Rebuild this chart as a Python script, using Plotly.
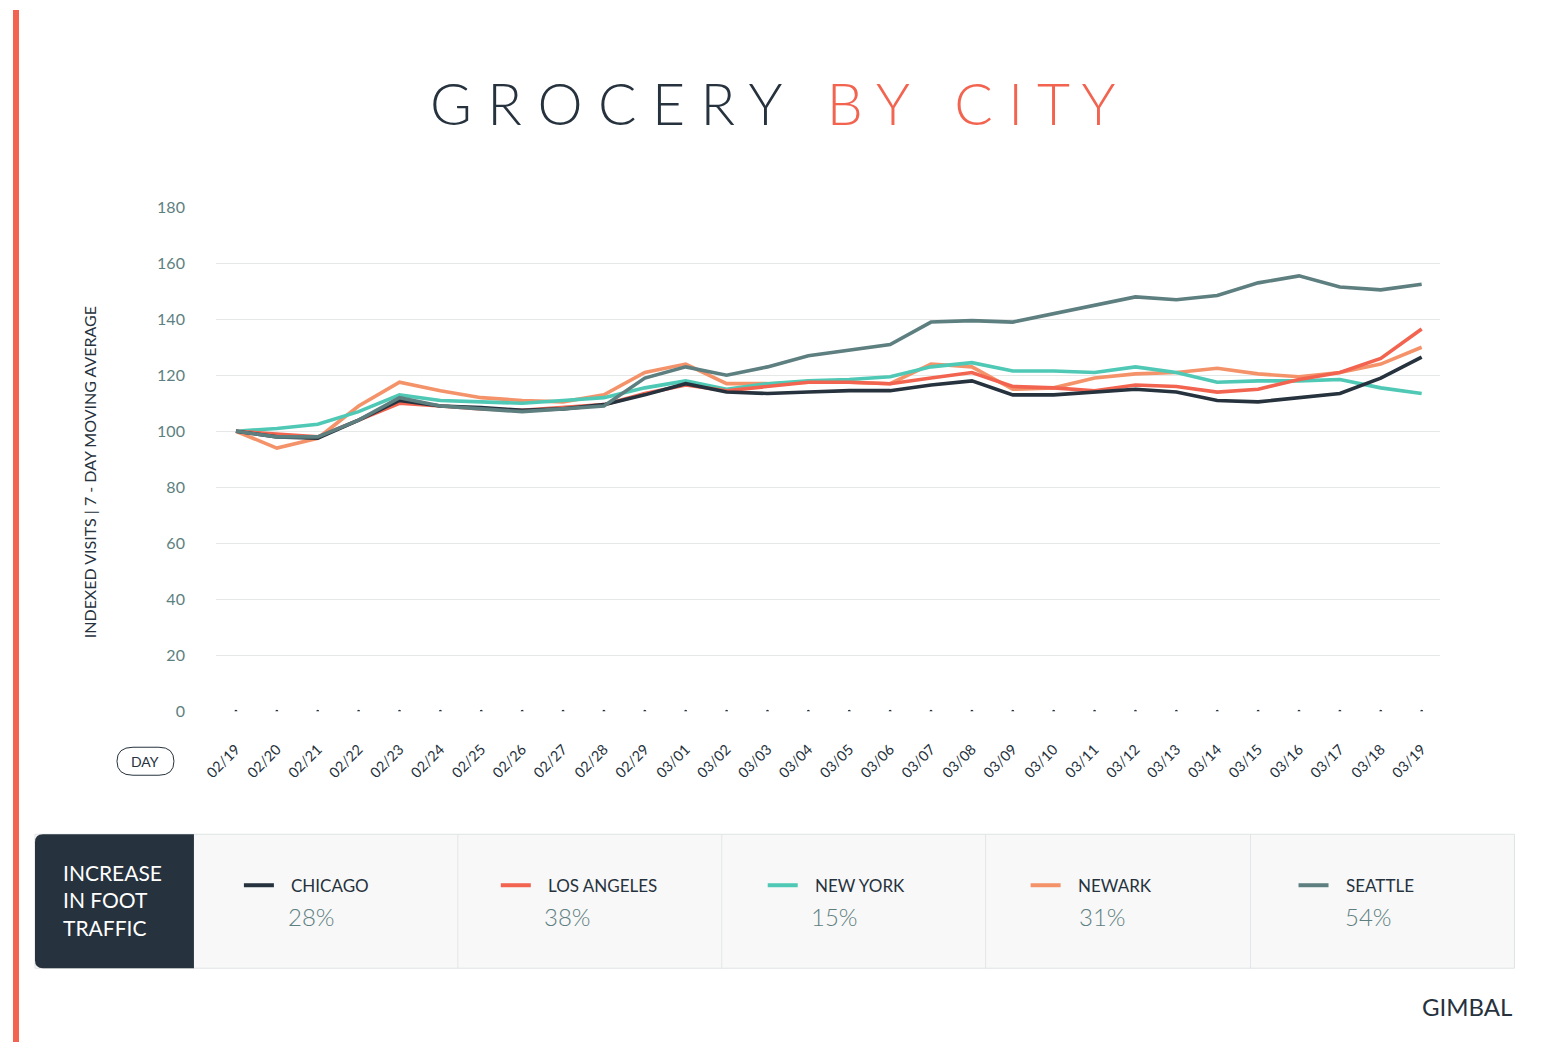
import plotly.graph_objects as go

W, H = 1554, 1051
days = ["02/19","02/20","02/21","02/22","02/23","02/24","02/25","02/26","02/27","02/28","02/29",
        "03/01","03/02","03/03","03/04","03/05","03/06","03/07","03/08","03/09","03/10","03/11",
        "03/12","03/13","03/14","03/15","03/16","03/17","03/18","03/19"]
chicago = [100,98,97.5,104,111,109,108.5,107.5,108,109.5,113,117,114,113.5,114,114.5,114.5,116.5,118,113,113,114,115,114,111,110.5,112,113.5,119,126.5]
los_angeles = [100,99,98,104,110,109,108,107.5,108.5,109.5,113.5,116.5,114.5,116,117.5,117.5,117,119,121,116,115.5,114.5,116.5,116,114,115,118.5,121,126,136.5]
new_york = [100,101,102.5,107,113,111,110.5,110,111,112,115.5,118,115,117,118,118.5,119.5,123,124.5,121.5,121.5,121,123,121,117.5,118,118,118.5,115.5,113.5]
newark = [100,94,97.5,109,117.5,114.5,112,111,110.5,113,121,124,117,117,117.5,117.5,117,124,123,115,115.5,119,120.5,121,122.5,120.5,119.5,121,124,130]
seattle = [100,98,98,104,112,109,108,107,108,109,119,123,120,123,127,129,131,139,139.5,139,142,145,148,147,148.5,153,155.5,151.5,150.5,152.5]
cities = ["CHICAGO","LOS ANGELES","NEW YORK","NEWARK","SEATTLE"]
increases = ["28%","38%","15%","31%","54%"]
colors = ["#26323d","#f26450","#4fc9b5","#f4936a","#5e7f80"]
series = [chicago, los_angeles, new_york, newark, seattle]

# empirical compensation of the rendering transform
AX, BX, AY, BY = 0.992, 12.0, 0.982, 9.7
def px(x): return min(max(((x - BX) / AX) / W, 0), 1)
def py(y): return min(max(1 - ((y - BY) / AY) / H, 0), 1)

FONT = "Lato"
fig = go.Figure()
order = [3, 2, 1, 0, 4]
for i in order:
    fig.add_trace(go.Scatter(x=list(range(len(days))), y=series[i], mode="lines",
                             line=dict(color=colors[i], width=3.6), name=cities[i],
                             hoverinfo="skip"))
fig.add_trace(go.Scatter(x=list(range(len(days))), y=[0]*len(days), mode="markers",
                         marker=dict(color="#26323d", size=3), hoverinfo="skip"))

x0p, x1p = px(215), px(1440)
fig.update_layout(
    width=W, height=H, margin=dict(l=0, r=0, t=0, b=0),
    paper_bgcolor="white", plot_bgcolor="white", showlegend=False,
    font=dict(family=FONT, color="#5d7f80"),
    xaxis=dict(domain=[x0p, x1p], range=[-0.49, 29.46],
               tickmode="array", tickvals=list(range(len(days))), ticktext=days,
               tickangle=-45, showgrid=False, zeroline=False, ticks="",
               tickfont=dict(size=14.5, color="#26323d"), ticklabelstandoff=26),
    yaxis=dict(domain=[py(711), py(207)], range=[0, 180], dtick=20,
               showgrid=True, gridcolor="#e6e8e8", gridwidth=1, zeroline=False,
               tickfont=dict(size=16, color="#5d7f80"), ticklabelstandoff=30),
)

shapes = [
    dict(type="rect", x0=0, x1=px(18), y0=0, y1=1, fillcolor="#f26450", line_width=0),
    dict(type="rect", x0=px(34), x1=px(1514), y0=py(968), y1=py(834),
         fillcolor="#f8f8f8", line=dict(color="#dfe3e3", width=1)),
    dict(type="path", path=f"M {px(193)},{py(834)} L {px(42)},{py(834)} Q {px(34)},{py(834)} {px(34)},{py(842)} "
         f"L {px(34)},{py(960)} Q {px(34)},{py(968)} {px(42)},{py(968)} L {px(193)},{py(968)} Z",
         fillcolor="#26323d", line_width=0),
    dict(type="path", path=f"M {px(132)},{py(747)} L {px(158)},{py(747)} Q {px(173)},{py(747)} {px(173)},{py(761)} "
         f"Q {px(173)},{py(775)} {px(158)},{py(775)} L {px(132)},{py(775)} Q {px(116)},{py(775)} {px(116)},{py(761)} "
         f"Q {px(116)},{py(747)} {px(132)},{py(747)} Z", line=dict(color="#26323d", width=1)),
]
for d in [457, 721, 985, 1250]:
    shapes.append(dict(type="line", x0=px(d), x1=px(d), y0=py(968), y1=py(834),
                       line=dict(color="#e3e6e6", width=1)))
lx = [243, 500, 767, 1030, 1298]
for i, x in enumerate(lx):
    shapes.append(dict(type="line", x0=px(x), x1=px(x + 30), y0=py(885), y1=py(885),
                       line=dict(color=colors[i], width=4)))
for s in shapes:
    s.update(xref="paper", yref="paper")
fig.update_layout(shapes=shapes)

ann = [
    dict(x=px(772), y=py(103), text="G R O C E R Y   <span style='color:#f26450'>B Y   C I T Y</span>",
         font=dict(size=57, color="#26323d", family=FONT, weight=300)),
    dict(x=px(88), y=py(472), text="INDEXED VISITS | 7 - DAY MOVING AVERAGE", textangle=-90,
         font=dict(size=16, color="#26323d", family=FONT)),
    dict(x=px(144), y=py(761), text="DAY", font=dict(size=14, color="#26323d", family=FONT)),
    dict(x=px(60), y=py(900), xanchor="left", align="left",
         text="INCREASE<br>IN FOOT<br>TRAFFIC", font=dict(size=21, color="white", family=FONT)),
    dict(x=px(1514), y=py(1006), xanchor="right", text="GIMBAL",
         font=dict(size=24, color="#26323d", family=FONT)),
]
pctx = [285, 541, 808, 1076, 1342]
for i in range(5):
    ann.append(dict(x=px(lx[i] + 45), y=py(885), xanchor="left", text=cities[i],
                    font=dict(size=17, color="#26323d", family=FONT)))
    ann.append(dict(x=px(pctx[i]), y=py(916), xanchor="left", text=increases[i],
                    font=dict(size=24, color="#5d7f80", family=FONT, weight=300)))
for a in ann:
    a.update(xref="paper", yref="paper", showarrow=False)
    a.setdefault("xanchor", "center")
    a.setdefault("yanchor", "middle")
fig.update_layout(annotations=ann)

fig.write_html("out.html", config={"displayModeBar": False},
               post_script="document.body.style.margin='0';document.body.style.overflow='hidden';")
